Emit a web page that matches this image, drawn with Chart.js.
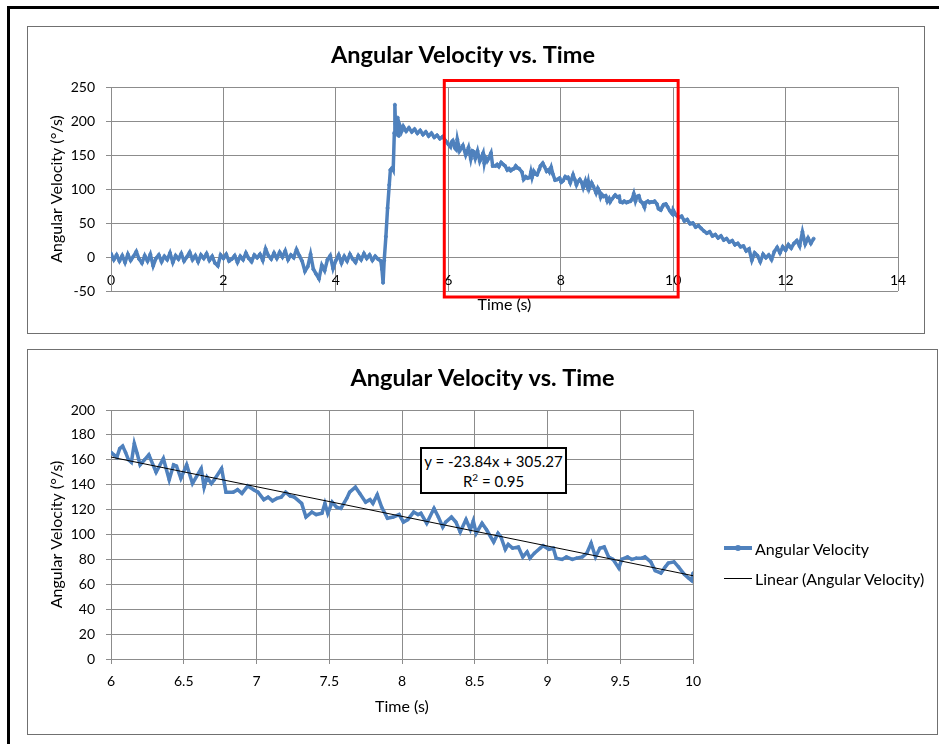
<!DOCTYPE html>
<html>
<head>
<meta charset="utf-8">
<title>Angular Velocity vs. Time</title>
<script src="https://cdn.jsdelivr.net/npm/chart.js"></script>
<style>
  body { margin: 0; background: #fff; font-family: Lato, sans-serif; }
  #page { position: relative; width: 939px; height: 744px; overflow: hidden; }
  #outline { position: absolute; left: 7px; top: 6px; width: 960px; height: 760px;
             border-top: 3px solid #000; border-left: 3px solid #000; }
  .frame { position: absolute; box-sizing: border-box; border: 1px solid #707070; }
  #frame1 { left: 27px; top: 26px; width: 898px; height: 308px; }
  #frame2 { left: 27px; top: 349px; width: 911px; height: 386px; }
  canvas { position: absolute; }
  #fullChart { left: 28px; top: 26px; }
  #zoomChart { left: 27px; top: 349px; }
  #equation { position: absolute; left: 420px; top: 447px; width: 147px; height: 47px;
              box-sizing: border-box; border: 2px solid #000; background: #fff;
              font-size: 15px; line-height: 20px; text-align: center; padding-top: 2px; color: #000; }
  #equation sup { font-size: 10px; line-height: 0; vertical-align: 6px; }
  #legend { position: absolute; left: 724px; top: 533px; font-size: 16px; color: #000; }
  .legend-row { height: 30px; display: flex; align-items: center; white-space: nowrap; }
  .swatch { position: relative; display: inline-block; width: 28px; margin-right: 3px; }
  .swatch .dot { position: absolute; left: 11px; width: 6px; height: 6px; border-radius: 3px; }
</style>
</head>
<body>
<div id="page">
  <div id="outline"></div>
  <div class="frame" id="frame1"></div>
  <div class="frame" id="frame2"></div>
  <canvas id="fullChart" width="896" height="307"></canvas>
  <canvas id="zoomChart" width="911" height="385"></canvas>
  <div id="equation">y = -23.84x + 305.27<br>R<sup>2</sup> = 0.95</div>
  <div id="legend"></div>
</div>
<script>
// time (s) and angular velocity (deg/s)
var riseTimes = [0,0.05,0.1,0.15,0.2,0.25,0.3,0.35,0.4,0.45,0.5,0.55,0.6,0.65,0.7,0.75,0.8,0.85,0.9,0.95,
  1,1.05,1.1,1.15,1.2,1.25,1.3,1.35,1.4,1.45,1.5,1.55,1.6,1.65,1.7,1.75,1.8,1.85,1.9,1.95,
  2,2.05,2.1,2.15,2.2,2.25,2.3,2.35,2.4,2.45,2.5,2.55,2.6,2.65,2.7,2.75,2.8,2.85,2.9,2.95,
  3,3.05,3.1,3.15,3.2,3.25,3.3,3.35,3.4,3.45,3.5,3.55,3.6,3.65,3.7,3.75,3.8,3.85,3.9,3.95,
  4,4.05,4.1,4.15,4.2,4.25,4.3,4.35,4.4,4.45,4.5,4.55,4.6,4.65,4.7,4.75,4.8,
  4.82,4.84,4.86,4.89,4.92,4.95,4.97,5,5.02,5.04,5.05,5.06,5.08,5.1,5.12,5.14,5.17,
  5.2,5.25,5.3,5.35,5.4,5.45,5.5,5.55,5.6,5.65,5.7,5.75,5.8,5.85,5.9,5.95];
var riseOmega = [5,-4,3,-6,2,-8,4,-5,1,8,-3,-9,2,-6,4,-13,-2,3,-7,1,
  -4,6,-8,2,-3,5,-6,0,7,-4,2,-7,3,-2,5,-5,1,-9,-13,3,
  -2,4,-6,-3,2,-8,1,-4,6,-2,-7,3,-1,4,-5,12,2,-3,6,-2,
  7,0,9,-4,3,-1,11,2,-6,-21,-14,4,-18,-25,-32,-12,-20,-4,2,-17,
  -5,3,-9,1,-6,4,-3,-8,2,-4,5,-2,3,-5,1,-3,-6,
  -18,-38,-5,30,72,106,128,131,128,182,224,196,180,205,178,193,185,
  192,185,190,184,188,182,186,180,184,178,182,176,179,174,177,171];

var zoomTimes = [6,6.02,6.04,6.06,6.08,6.1,6.12,6.14,6.16,6.18,6.2,6.23,6.26,6.31,6.36,6.4,6.43,6.45,6.48,6.52,
  6.56,6.62,6.64,6.66,6.69,6.71,6.76,6.79,6.84,6.87,6.9,6.94,6.98,7.01,7.05,7.08,7.11,7.14,7.17,7.2,
  7.23,7.26,7.31,7.34,7.38,7.41,7.45,7.47,7.49,7.52,7.55,7.58,7.62,7.64,7.68,7.71,7.75,7.78,7.8,7.83,
  7.86,7.9,7.94,7.98,8.01,8.04,8.08,8.11,8.13,8.17,8.22,8.25,8.28,8.3,8.34,8.37,8.4,8.44,8.47,8.49,
  8.51,8.55,8.58,8.63,8.66,8.68,8.71,8.73,8.76,8.8,8.83,8.86,8.88,8.91,8.95,8.97,9.01,9.04,9.06,9.1,
  9.13,9.17,9.2,9.24,9.27,9.3,9.33,9.36,9.39,9.42,9.45,9.49,9.51,9.55,9.58,9.61,9.65,9.67,9.71,9.74,
  9.78,9.81,9.83,9.87,9.9,9.94,9.97,9.99,10];
var zoomOmega = [166,164,162,169,171,166,160,158,173,165,156,160,164,150,161,144,156,155,145,156,
  141,153,138,146,141,144,153,134,134,136,133,139,136,134,128,130,127,129,130,134,
  131,130,125,114,118,116,117,125,117,126,122,121,129,134,138,133,126,128,125,132,
  122,113,114,116,110,112,118,116,117,109,121,114,106,110,114,110,102,112,104,111,
  101,109,104,94,101,98,88,92,89,90,82,86,81,85,89,91,88,89,81,80,
  82,80,81,82,85,93,82,89,90,82,80,73,80,82,80,81,81,82,78,71,
  69,74,77,78,74,68,65,63,69];

var tailTimes = [10.05,10.1,10.15,10.2,10.25,10.3,10.35,10.4,10.45,10.5,10.55,10.6,10.65,10.7,10.75,10.8,10.85,10.9,10.95,11,
  11.05,11.1,11.15,11.2,11.25,11.3,11.35,11.4,11.45,11.5,11.55,11.6,11.65,11.7,11.75,11.8,11.85,11.9,11.95,12,
  12.05,12.1,12.15,12.2,12.25,12.3,12.35,12.4,12.45,12.5];
var tailOmega = [62,58,60,53,55,49,50,44,46,42,38,35,37,31,33,28,31,25,27,22,
  24,18,20,15,16,9,12,-5,6,2,-7,4,-1,3,-4,8,14,6,15,10,
  18,13,20,24,16,37,19,28,20,27];

// linear trendline over the 6-10 s window: end values as drawn
var trendTimes = [6, 10];
var trendOmega = [162.2, 66.9];

var seriesName = 'Angular Velocity';
var trendName = 'Linear (Angular Velocity)';
var chartTitle = 'Angular Velocity vs. Time';
var xTitle = 'Time (s)';
var yTitle = 'Angular Velocity (\u00b0/s)';

var BLUE = '#4f81bd';
var GRID = '#8c8c8c';
var TICK_FONT = { family: 'Lato', size: 14 };
var AXIS_FONT = { family: 'Lato', size: 16 };
var TITLE_FONT = { family: 'Lato', size: 23.5, weight: 'bold' };
var TITLE_PAD = { top: 15, bottom: 17.8 };

function points(times, values) {
  return times.map(function(t, i) { return { x: t, y: values[i] }; });
}

function plainNumber(v) { return String(v); }

// red box marking the window that the lower chart zooms into
var zoomBox = {
  id: 'zoomBox',
  afterDraw: function(chart) {
    var x = chart.scales.x, area = chart.chartArea, ctx = chart.ctx;
    var left = x.getPixelForValue(zoomTimes[0]) - 4;
    var right = x.getPixelForValue(zoomTimes[zoomTimes.length - 1]) + 5;
    ctx.save();
    ctx.strokeStyle = '#ff0000';
    ctx.lineWidth = 3;
    ctx.strokeRect(left, area.top - 6.5, right - left, area.bottom - area.top + 12.5);
    ctx.restore();
  }
};

var fullChart = new Chart(document.getElementById('fullChart'), {
  type: 'line',
  data: {
    datasets: [{
      label: seriesName,
      data: points(riseTimes.concat(zoomTimes, tailTimes), riseOmega.concat(zoomOmega, tailOmega)),
      borderColor: BLUE,
      backgroundColor: BLUE,
      borderWidth: 3.5,
      pointRadius: 1.5,
      pointBorderWidth: 1,
      tension: 0,
      fill: false
    }]
  },
  options: {
    responsive: false,
    animation: false,
    locale: 'en-US',
    layout: { padding: { left: 0, right: 26, top: 0, bottom: 42 } },
    plugins: {
      legend: { display: false },
      tooltip: { enabled: false },
      title: { display: true, text: chartTitle, color: '#000', font: TITLE_FONT, padding: TITLE_PAD }
    },
    scales: {
      x: {
        type: 'linear', position: { y: 0 }, min: 0, max: 14,
        ticks: { stepSize: 2, color: '#000', font: TICK_FONT, padding: 14.6, maxRotation: 0, callback: plainNumber },
        grid: { color: GRID, drawTicks: false },
        border: { color: GRID },
        title: { display: true, text: xTitle, color: '#000', font: AXIS_FONT, padding: { top: 0, bottom: 2.4 } },
        afterFit: function(s) { s.height = 60; }
      },
      y: {
        min: -50, max: 250,
        ticks: { stepSize: 50, color: '#000', font: TICK_FONT, padding: 11 },
        grid: { color: GRID, tickLength: 5 },
        border: { color: GRID },
        title: { display: true, text: yTitle, color: '#000', font: AXIS_FONT, padding: { top: 19.4, bottom: 0 } },
        afterFit: function(s) { s.width = 83; }
      }
    }
  },
  plugins: [zoomBox]
});

var zoomChart = new Chart(document.getElementById('zoomChart'), {
  type: 'line',
  data: {
    datasets: [{
      label: seriesName,
      data: points(zoomTimes, zoomOmega),
      borderColor: BLUE,
      backgroundColor: BLUE,
      borderWidth: 3.5,
      pointRadius: 1.3,
      pointBorderWidth: 1,
      tension: 0,
      fill: false,
      order: 1
    }, {
      label: trendName,
      data: points(trendTimes, trendOmega),
      borderColor: '#000',
      backgroundColor: '#000',
      borderWidth: 1,
      pointRadius: 0,
      tension: 0,
      fill: false,
      order: 0
    }]
  },
  options: {
    responsive: false,
    animation: false,
    locale: 'en-US',
    layout: { padding: 0 },
    plugins: {
      legend: { display: false },
      tooltip: { enabled: false },
      title: { display: true, text: chartTitle, color: '#000', font: TITLE_FONT, padding: TITLE_PAD }
    },
    scales: {
      x: {
        type: 'linear', min: 6, max: 10,
        ticks: { stepSize: 0.5, color: '#000', font: TICK_FONT, padding: 9.3, maxRotation: 0, callback: plainNumber },
        grid: { color: GRID, tickLength: 5 },
        border: { color: GRID },
        title: { display: true, text: xTitle, color: '#000', font: AXIS_FONT, padding: { top: 0, bottom: 17.7 } },
        afterFit: function(s) { s.height = 75; }
      },
      y: {
        min: 0, max: 200,
        ticks: { stepSize: 20, color: '#000', font: TICK_FONT, padding: 11 },
        grid: { color: GRID, tickLength: 5 },
        border: { color: GRID },
        title: { display: true, text: yTitle, color: '#000', font: AXIS_FONT, padding: { top: 20.1, bottom: 0 } },
        afterFit: function(s) { s.width = 84; }
      },
      // empty right-hand axis: keeps room for the legend while the title stays centred on the whole chart
      legendRoom: {
        type: 'linear', position: 'right', display: true,
        ticks: { display: false }, grid: { display: false, drawTicks: false }, border: { display: false },
        afterFit: function(s) { s.width = 245; }
      }
    }
  }
});

// html legend for the lower chart, built from its datasets
var legendBox = document.getElementById('legend');
zoomChart.data.datasets.forEach(function(ds) {
  var row = document.createElement('div');
  row.className = 'legend-row';
  var swatch = document.createElement('span');
  swatch.className = 'swatch';
  swatch.style.borderTop = Math.round(ds.borderWidth) + 'px solid ' + ds.borderColor;
  if (ds.pointRadius > 0) {
    var dot = document.createElement('span');
    dot.className = 'dot';
    dot.style.background = ds.borderColor;
    dot.style.top = (-3 - Math.round(ds.borderWidth) / 2) + 'px';
    swatch.appendChild(dot);
  }
  row.appendChild(swatch);
  row.appendChild(document.createTextNode(ds.label));
  legendBox.appendChild(row);
});
</script>
</body>
</html>
